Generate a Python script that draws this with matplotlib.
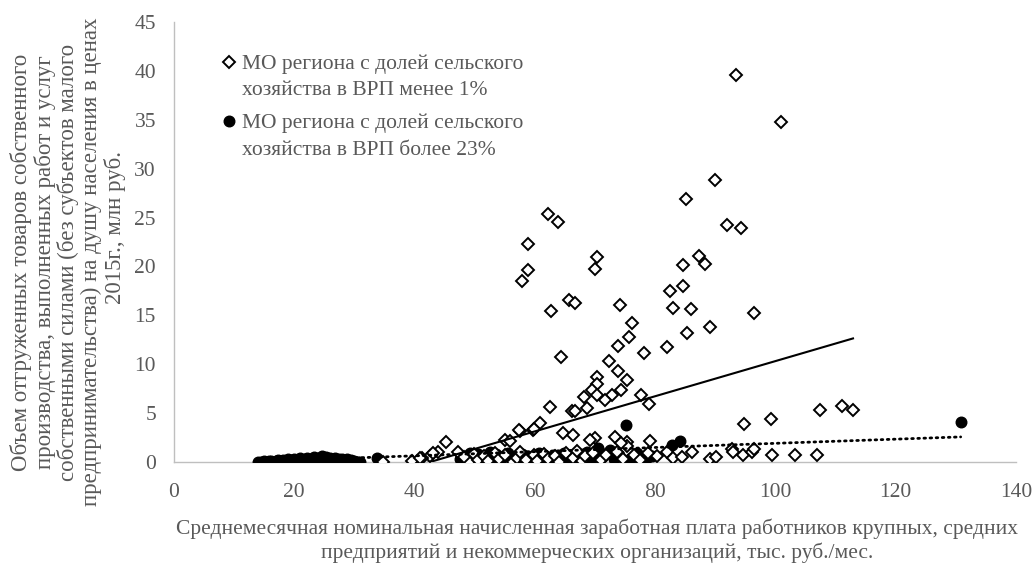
import matplotlib
matplotlib.use("Agg")
import matplotlib.pyplot as plt
import numpy as np
from matplotlib.lines import Line2D
from matplotlib.legend_handler import HandlerLine2D

plt.rcParams['font.family'] = ['Liberation Serif', 'DejaVu Serif']

# Series 1: МО региона с долей сельского хозяйства в ВРП менее 1% (open diamonds)
x1 = [93.4, 100.9, 90.0, 85.1, 62.2, 63.9, 91.9, 94.2, 58.9, 70.3, 87.3, 88.3, 84.6, 70.0,
      58.9, 57.9, 84.6, 82.4, 65.6, 66.6, 74.2, 83.0, 85.9, 62.7, 96.4, 76.2, 89.1, 85.3,
      75.7, 73.8, 81.9, 78.1, 64.3, 72.4, 73.9, 70.3, 75.3, 70.3, 69.5, 74.4, 70.3, 72.9,
      77.6, 68.1, 71.6, 79.0, 62.5, 68.7, 66.1, 66.7, 60.8, 59.7, 57.5, 64.6, 66.3, 73.3,
      70.0, 55.0, 69.2, 55.9, 79.1, 75.3, 45.2, 75.3, 43.9, 47.3, 42.6, 41.2, 39.5, 34.8,
      94.8, 99.2, 107.4, 111.0, 112.9, 80.3, 81.9, 83.0, 84.4, 86.1, 89.1, 90.1, 92.7,
      92.9, 94.6, 96.1, 96.4, 99.4, 103.3, 106.9, 43.1, 40.9, 49.0, 57.3, 59.8, 74.4,
      48.2, 49.8, 50.5, 51.5, 52.2, 53.3, 54.0, 55.0, 56.3, 57.0, 57.6, 58.6, 59.8, 60.4,
      61.6, 62.2, 63.4, 64.0, 65.2, 66.4, 67.0, 67.8, 68.4, 69.6, 71.0, 71.8, 73.6, 74.6,
      76.5, 77.4, 78.8]
y1 = [39.6, 34.8, 28.8, 26.9, 25.4, 24.5, 24.2, 23.9, 22.3, 21.0, 21.1, 20.3, 20.1, 19.7,
      19.6, 18.5, 18.0, 17.5, 16.6, 16.3, 16.1, 15.7, 15.6, 15.4, 15.2, 14.2, 13.8, 13.2,
      12.8, 11.9, 11.8, 11.1, 10.7, 10.3, 9.3, 8.7, 8.4, 8.0, 7.4, 7.4, 6.85, 6.85,
      6.85, 6.6, 6.3, 5.9, 5.65, 5.5, 5.2, 5.2, 3.95, 3.3, 3.2, 3.0, 2.8, 2.6,
      2.5, 2.3, 2.25, 2.1, 2.1, 2.0, 2.0, 1.6, 1.05, 1.05, 0.6, 0.4, 0.1, 0.0,
      3.85, 4.4, 5.3, 5.75, 5.3, 0.6, 1.05, 0.4, 0.55, 1.05, 0.3, 0.55, 1.3,
      1.05, 0.7, 1.05, 1.3, 0.7, 0.7, 0.7, 0.9, 0.4, 0.0, 3.3, 3.4, 1.9,
      0.5, 0.8, 0.2, 0.6, 0.1, 0.9, 0.3, 0.7, 0.0, 0.4, 1.0, 0.2, 0.7, 0.1,
      0.8, 0.3, 0.6, 0.0, 0.9, 0.4, 1.1, 0.1, 0.6, 0.9, 0.2, 0.7, 1.0, 0.3,
      0.7, 0.2, 0.9]

# Series 2: МО региона с долей сельского хозяйства в ВРП более 23% (filled circles)
x2 = [14.0, 14.5, 15.0, 15.3, 15.8, 16.2, 16.6, 17.0, 17.3, 17.8, 18.1, 18.5, 18.9, 19.2,
      19.6, 20.0, 20.3, 20.7, 21.0, 21.4, 21.8, 22.1, 22.5, 22.8, 23.2, 23.5, 23.9, 24.2,
      24.6, 25.0, 25.3, 25.7, 26.0, 26.4, 26.8, 27.1, 27.5, 27.9, 28.3, 28.8, 29.4, 30.0,
      30.6, 31.0, 33.7,
      47.5, 48.5, 49.2, 50.0, 50.6, 51.2, 51.8, 52.5, 53.0, 53.6, 54.2, 54.8, 55.5, 56.0,
      56.6, 57.2, 57.8, 58.3, 58.9, 59.5, 60.1, 60.7, 61.3, 61.9, 62.5, 63.1, 63.7, 64.3,
      64.9, 65.5, 66.1, 66.8, 67.4, 68.0, 68.7, 69.3, 70.0, 70.5, 71.2, 72.0, 72.5, 73.2,
      74.0, 75.2, 75.5, 76.0, 77.0, 78.0, 78.5, 79.5, 82.8, 84.1, 130.8]
y2 = [0.0, 0.05, 0.1, 0.02, 0.08, 0.12, 0.05, 0.15, 0.2, 0.1, 0.25, 0.15, 0.3, 0.1,
      0.2, 0.35, 0.15, 0.25, 0.4, 0.2, 0.3, 0.45, 0.25, 0.35, 0.5, 0.3, 0.45, 0.2,
      0.6, 0.35, 0.5, 0.25, 0.4, 0.3, 0.45, 0.2, 0.35, 0.3, 0.15, 0.3, 0.2, 0.1,
      0.05, 0.0, 0.44,
      0.3, 0.6, 0.9, 0.5, 0.8, 0.3, 0.7, 1.0, 0.4, 0.8, 0.2, 0.6, 0.9, 0.4,
      0.1, 0.5, 0.8, 0.3, 0.6, 0.2, 0.5, 0.9, 0.3, 0.6, 0.4, 0.7, 0.2, 0.5,
      0.9, 0.3, 0.6, 0.2, 0.8, 0.4, 1.0, 0.3, 0.6, 1.4, 0.5, 0.9, 1.2, 0.3,
      0.7, 3.8, 0.2, 0.4, 0.9, 0.4, 0.3, 0.6, 1.7, 2.1, 4.1]

# Linear trend lines (coefficients)
trend1 = {"slope": 0.1797, "intercept": -7.65}
trend2 = {"slope": 0.0213, "intercept": -0.22}

label1 = "МО региона с долей сельского\nхозяйства в ВРП менее 1%"
label2 = "МО региона с долей сельского\nхозяйства в ВРП более 23%"
xlabel = ("Среднемесячная номинальная начисленная заработная плата работников крупных, средних\n"
          "предприятий и некоммерческих организаций, тыс. руб./мес.")
ylabel = ("Объем отгруженных товаров собственного\n"
          "производства, выполненных работ и услуг\n"
          "собственными силами (без субъектов малого\n"
          "предпринимательства) на душу населения в ценах\n"
          "            2015г., млн руб.")

gray = "#595959"
fig = plt.figure(figsize=(10.32, 5.64), dpi=100)
ax = fig.add_axes([174 / 1032, 1 - 462 / 564, (1016 - 174) / 1032, (462 - 22) / 564])

dia = dict(linestyle='none', marker='D', ms=6.0, mfc='white', mec='black', mew=1.4)
dot = dict(linestyle='none', marker='o', ms=7.6, color='black')

ax.plot(x2, y2, zorder=3, **dot)
ax.plot(x1, y1, zorder=4, **dia)

tx1 = np.array([min(x1), max(x1)])
ax.plot(tx1, trend1["slope"] * tx1 + trend1["intercept"], color='black', lw=1.5, zorder=5)
tx2 = np.array([min(x2), max(x2)])
ax.plot(tx2, trend2["slope"] * tx2 + trend2["intercept"], color='black', lw=2.0,
        linestyle=(0, (0.6, 1.6)), dash_capstyle='round', zorder=5)

ax.set_xlim(0, 140)
ax.set_ylim(0, 45)
ax.set_xticks(np.arange(0, 141, 20))
ax.set_yticks(np.arange(0, 46, 5))
for s in ['top', 'right']:
    ax.spines[s].set_visible(False)
for s in ['left', 'bottom']:
    ax.spines[s].set_color('#BFBFBF')
    ax.spines[s].set_linewidth(1.0)
ax.tick_params(axis='both', length=0, labelsize=15.5, labelcolor=gray)
ax.tick_params(axis='x', pad=15)
ax.tick_params(axis='y', pad=13)

fig.text(597 / 1032, 1 - 541 / 564, xlabel, ha='center', va='center', fontsize=15.5,
         color=gray, linespacing=1.25)
fig.text(68 / 1032, 1 - 262 / 564, ylabel, ha='center', va='center', fontsize=16.5,
         color=gray, rotation=90, linespacing=1.1)


class FirstLineHandler(HandlerLine2D):
    """Place the legend marker level with the first line of a two-line label."""
    def __init__(self, shift, **kw):
        super().__init__(**kw)
        self.shift = shift

    def create_artists(self, legend, orig_handle, xdescent, ydescent, width, height,
                       fontsize, trans):
        arts = super().create_artists(legend, orig_handle, xdescent, ydescent, width,
                                      height, fontsize, trans)
        for a in arts:
            a.set_ydata(np.asarray(a.get_ydata(), dtype=float) + self.shift * fontsize)
        return arts


h1 = Line2D([], [], **dia)
h2 = Line2D([], [], **dot)
hm = {h1: FirstLineHandler(0.68), h2: FirstLineHandler(0.68)}
leg = ax.legend([h1, h2], [label1, label2], loc='upper left', handler_map=hm,
                bbox_to_anchor=(224 / 1032, 1 - 54 / 564), bbox_transform=fig.transFigure,
                frameon=False, fontsize=15.5, handlelength=0.5, handletextpad=0.35,
                labelspacing=0.62, borderaxespad=0, borderpad=0)
for t in leg.get_texts():
    t.set_color(gray)
    t.set_linespacing(1.55)

fig.savefig("out.png", dpi=100)
